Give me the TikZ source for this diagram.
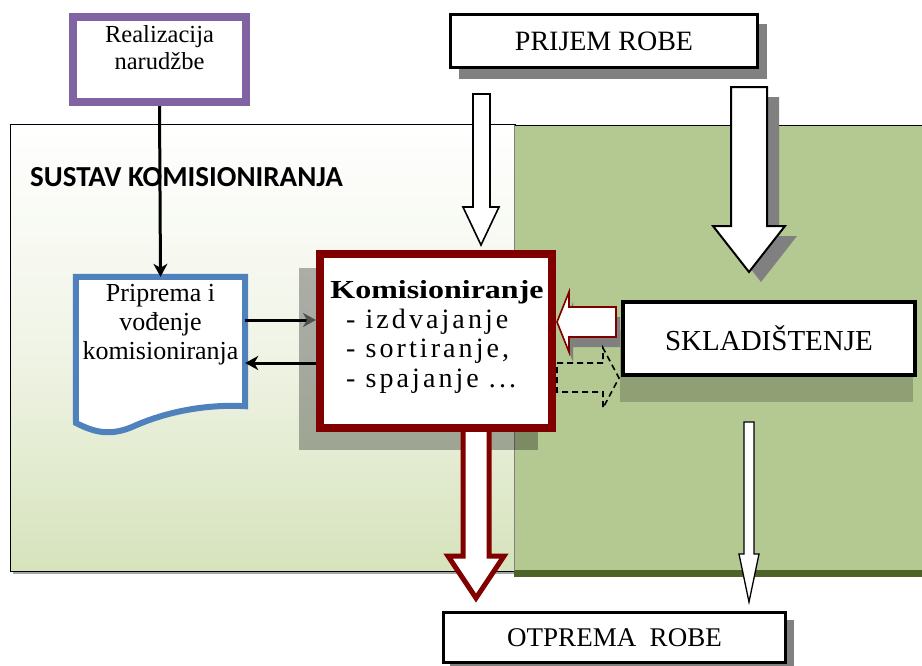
\documentclass[tikz,border=0pt]{standalone}
\usepackage{fontspec}
\setmainfont{Liberation Serif}
\newfontfamily\titlefont{Carlito}
\newfontfamily\spacedfont[LetterSpace=11]{Liberation Serif}
\usetikzlibrary{arrows.meta,calc}
\definecolor{purp}{RGB}{128,100,162}
\definecolor{blu}{RGB}{79,129,189}
\definecolor{dred}{RGB}{128,0,0}
\definecolor{grn}{RGB}{180,200,145}
\definecolor{dgrn}{RGB}{79,98,40}
\definecolor{lgrn}{RGB}{214,227,188}
\definecolor{shd}{RGB}{128,128,128}
\definecolor{tipgray}{RGB}{80,80,80}
\tikzset{
  conn/.style={line width=3pt, -{Stealth[length=13pt,width=14pt,inset=4pt]}},
  blockarrow/.style={fill=white, draw=black, line width=1.6pt, line join=miter},
  plainbox/.style={draw=black, line width=3.2pt, fill=white, inner sep=0pt},
  shadowfill/.style={fill=black, fill opacity=0.3},
  lightshadow/.style={fill=black, fill opacity=0.2},
  hardshadow/.style={fill=shd},
}
\begin{document}
\begin{tikzpicture}[x=1pt,y=-1pt]
\useasboundingbox (0,0) rectangle (922,665);
% ---------- system area (left) ----------
\fill[gray!70] (13,127) rectangle (518,574);
\shade[top color=white, bottom color=lgrn, middle color={rgb,255:red,240;green,244;blue,230}] (10,124) rectangle (515,571);
\draw[line width=0.9pt] (10,124) rectangle (515,571);
% ---------- warehouse area (right) ----------
\fill[grn] (514,125) rectangle (922,571);
\fill[dgrn] (514,570) rectangle (922,577);
\draw[line width=1pt] (514,125) -- (922,125);
\draw[gray, line width=0.6pt] (514,125) -- (514,571);
\node[anchor=base west, inner sep=0pt, font=\titlefont\bfseries\fontsize{29}{34}\selectfont] (title) at (30,186) {SUSTAV KOMISIONIRANJA};
% ---------- Realizacija narudzbe ----------
\node[draw=purp, line width=8pt, fill=white, minimum width=173pt, minimum height=85pt, inner sep=0pt] (real) at (159.5,59.5) {};
\node[anchor=north, align=center, inner sep=0pt, font=\fontsize{24.5}{27}\selectfont] (realtxt) at ($(real.north)+(0,12)$) {Realizacija\\narudžbe};
% ---------- Priprema (document shape) ----------
\node[minimum width=169pt, minimum height=129pt, inner sep=0pt] (prip) at (160.5,341.5) {};
\draw[blu, line width=6pt, fill=white, line join=miter]
  (prip.north west) -- (prip.north east) -- (prip.south east)
  .. controls (205,404) and (165,412) .. (132,427)
  .. controls (108,437) and (92,431) .. (76,423) -- cycle;
\node[anchor=north, align=center, inner sep=0pt, font=\fontsize{26}{29}\selectfont] (priptxt) at (160.5,284) {Priprema i\\vođenje\\komisioniranja};
% ---------- Komisioniranje ----------
\fill[shadowfill] (299,268) rectangle (538,450);
% arrow Komisioniranje -> Otprema (drawn under the box)
\draw[fill=white, draw=dred, line width=5pt, line join=miter]
  (463,426) -- (489,426) -- (489,556) -- (504,556) -- (476,598) -- (448,556) -- (463,556) -- cycle;
\node[draw=dred, line width=8pt, fill=white, minimum width=232pt, minimum height=174pt, inner sep=0pt] (kom) at (436,341) {};
\node[anchor=base, inner sep=0pt, font=\bfseries\fontsize{26}{30}\selectfont] (komtitle) at (437,298) {\scalebox{1.23}[1]{Komisioniranje}};
\node[anchor=base west, inner sep=0pt, font=\spacedfont\fontsize{28}{29}\selectfont] (k1) at (346,328) {- izdvajanje};
\node[anchor=base west, inner sep=0pt, font=\spacedfont\fontsize{28}{29}\selectfont] (k2) at (346,357) {- sortiranje,};
\node[anchor=base west, inner sep=0pt, font=\spacedfont\fontsize{28}{29}\selectfont] (k3) at (346,387) {- spajanje ...};
% ---------- connectors between Priprema and Komisioniranje ----------
\draw[line width=3pt, -{Stealth[length=13pt,width=14pt,inset=4pt,color=tipgray]}] ([yshift=21.5pt]prip.east) -- ([yshift=21.5pt]prip.east -| kom.west);
\draw[conn] ([yshift=-21.5pt]prip.east -| kom.west) -- ([yshift=-21.5pt]prip.east);
\draw[conn] (real.south) -- (prip.north);
% ---------- PRIJEM ROBE ----------
\fill[hardshadow] (459,24) rectangle (767,79);
\node[plainbox, minimum width=307pt, minimum height=53pt, font=\fontsize{28}{32}\selectfont] (prijem) at (604,41) {PRIJEM ROBE};
% small arrow Prijem -> Komisioniranje
\draw[blockarrow] (473,94) -- (490,94) -- (490,207) -- (499,207) -- (481,245) -- (463,207) -- (473,207) -- cycle;
% big arrow Prijem -> Skladistenje
\fill[hardshadow] (743,97) -- (779,97) -- (779,236) -- (797,236) -- (761,282) -- (725,236) -- (743,236) -- cycle;
\draw[blockarrow, line width=2pt] (731,87) -- (767,87) -- (767,226) -- (785,226) -- (749,272) -- (713,226) -- (731,226) -- cycle;
% ---------- SKLADISTENJE ----------
\fill[lightshadow] (620,330) rectangle (913,402);
\node[plainbox, line width=4pt, minimum width=292pt, minimum height=73pt, font=\fontsize{29}{33}\selectfont] (sklad) at (769,338.5) {SKLADIŠTENJE};
% arrow Skladistenje -> Komisioniranje
\fill[hardshadow] (620,317) -- (573,317) -- (573,302) -- (561,332) -- (573,362) -- (573,347) -- (620,347) -- cycle;
\draw[fill=white, draw=dred, line width=1.6pt, line join=miter]
  (616,307) -- (569,307) -- (569,292) -- (557,322) -- (569,352) -- (569,337) -- (616,337) -- cycle;
% dashed arrow Komisioniranje -> Skladistenje
\draw[line width=1.6pt, dash pattern=on 6pt off 4pt, line join=miter]
  (557,363) -- (603,363) -- (603,348) -- (619,378) -- (603,408) -- (603,392) -- (557,392) -- cycle;
% arrow Skladistenje -> Otprema
\draw[blockarrow, line width=1.3pt] (744,422) -- (754,422) -- (754,554) -- (759,554) -- (749,602) -- (739,554) -- (744,554) -- cycle;
% ---------- OTPREMA ROBE ----------
\fill[hardshadow] (450,620) rectangle (794,668);
\node[plainbox, minimum width=342pt, minimum height=50pt, font=\fontsize{27}{30}\selectfont] (otprema) at (614.5,637.5) {OTPREMA\ \ ROBE};
\end{tikzpicture}
\end{document}
